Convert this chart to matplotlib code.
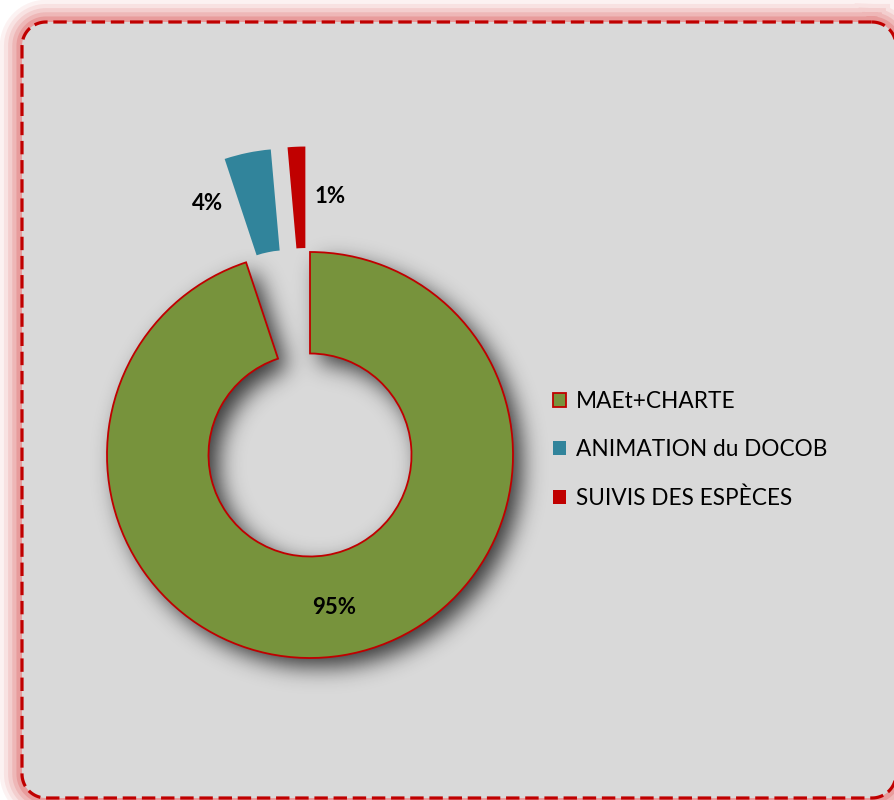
import numpy as np
import matplotlib
matplotlib.use("Agg")
import matplotlib.pyplot as plt
from matplotlib.patches import Polygon

# ---- data ----
categories = ["MAEt+CHARTE", "ANIMATION du DOCOB", "SUIVIS DES ESPÈCES"]
values = [94.9, 3.7, 1.4]
labels = ["95%", "4%", "1%"]

# ---- style ----
colors = ["#77933c", "#31849b", "#c00000"]
edge_red = "#c00000"
bg_col = "#d9d9d9"
explode = [0, 0.52, 0.52]
FONT = ["Lato", "DejaVu Sans"]

W, H = 894, 800
fig = plt.figure(figsize=(W / 100, H / 100), dpi=100)
fig.patch.set_facecolor("white")

# background axes in pixel coordinates (y down)
axb = fig.add_axes([0, 0, 1, 1], zorder=0)
axb.set_xlim(0, W)
axb.set_ylim(H, 0)
axb.axis("off")


def rounded_rect(x0, y0, x1, y1, r, n=20):
    pts = []
    corners = [(x1 - r, y0 + r, 270, 360), (x1 - r, y1 - r, 0, 90),
               (x0 + r, y1 - r, 90, 180), (x0 + r, y0 + r, 180, 270)]
    for ccx, ccy, a0, a1 in corners:
        t = np.radians(np.linspace(a0, a1, n))
        pts.extend(zip(ccx + r * np.cos(t), ccy + r * np.sin(t)))
    pts.append(pts[0])
    return np.array(pts)


box = rounded_rect(22, 22, 896, 798, 24)
for lw, a in [(32, 0.06), (26, 0.08), (20, 0.11), (14, 0.14), (8, 0.2)]:
    axb.plot(box[:, 0], box[:, 1], color="#d03030", lw=lw, alpha=a,
             solid_joinstyle="round", zorder=1, clip_on=False)
axb.add_patch(Polygon(box, closed=True, facecolor=bg_col, edgecolor="none",
                      zorder=2, clip_on=False))
axb.plot(box[:, 0], box[:, 1], color=edge_red, lw=2.3, linestyle=(0, (4.2, 1.8)),
         zorder=3, clip_on=False)

# pie axes: 1 data unit = R pixels, centred at (cx, cy) pixels from top-left
R = 203.0
cx, cy = 310.0, 455.0
ax = fig.add_axes([0, 0, 1, 1], zorder=1)
ax.patch.set_alpha(0)

wedges, _ = ax.pie(values, colors=colors, startangle=90, counterclock=False,
                   explode=explode, radius=1.0,
                   wedgeprops=dict(width=0.5, linewidth=0))
wedges[0].set_edgecolor(edge_red)
wedges[0].set_linewidth(1.3)
for w in wedges:
    w.set_zorder(3)

# soft drop shadow of the main ring
step = 0.005
g = np.arange(-1.5, 1.5, step)
X, Y = np.meshgrid(g, g)
rr = np.hypot(X, Y)
ang = np.degrees(np.arctan2(Y, X)) % 360
gap_lo, gap_hi = 90.0, 90.0 + 360.0 * (values[1] + values[2]) / sum(values)
mask = ((rr <= 1.0) & (rr >= 0.5) & ~((ang > gap_lo) & (ang < gap_hi))).astype(float)
sig = 0.055 / step
k = np.arange(-int(3 * sig), int(3 * sig) + 1)
ker = np.exp(-0.5 * (k / sig) ** 2)
ker /= ker.sum()
blur = np.apply_along_axis(lambda v: np.convolve(v, ker, mode="same"), 0, mask)
blur = np.apply_along_axis(lambda v: np.convolve(v, ker, mode="same"), 1, blur)
rgba = np.zeros(blur.shape + (4,))
rgba[..., 3] = np.clip(blur * 0.75, 0, 1)
offx, offy = 0.045, -0.045
ax.imshow(rgba, extent=(g[0] + offx, g[-1] + offx, g[0] + offy, g[-1] + offy),
          origin="lower", aspect="auto", zorder=2, interpolation="bilinear")

# percentage labels
def mid(w):
    return np.radians((w.theta1 + w.theta2) / 2)

a0 = mid(wedges[0])
ax.text(0.76 * np.cos(a0), 0.76 * np.sin(a0), labels[0], ha="center", va="center",
        fontsize=16, fontweight="bold", family=FONT, zorder=5)
a1 = mid(wedges[1]) + np.radians(10.5)
ax.text(1.337 * np.cos(a1), 1.337 * np.sin(a1), labels[1], ha="center", va="center",
        fontsize=16, fontweight="bold", family=FONT, zorder=5)
a2 = mid(wedges[2]) - np.radians(7.0)
ax.text(1.276 * np.cos(a2), 1.276 * np.sin(a2), labels[2], ha="center", va="center",
        fontsize=16, fontweight="bold", family=FONT, zorder=5)

ax.set_xlim(-cx / R, (W - cx) / R)
ax.set_ylim(-(H - cy) / R, cy / R)
ax.set_aspect("auto")
ax.axis("off")

leg = ax.legend(wedges, categories, loc="center left",
                bbox_to_anchor=(544 / W, 1 - 450 / H), bbox_transform=fig.transFigure,
                frameon=False, prop=dict(family=FONT, size=16.3),
                handlelength=0.55, handleheight=0.55, handletextpad=0.45,
                labelspacing=1.2, borderaxespad=0)

fig.savefig("out.png", dpi=100, facecolor="white")
